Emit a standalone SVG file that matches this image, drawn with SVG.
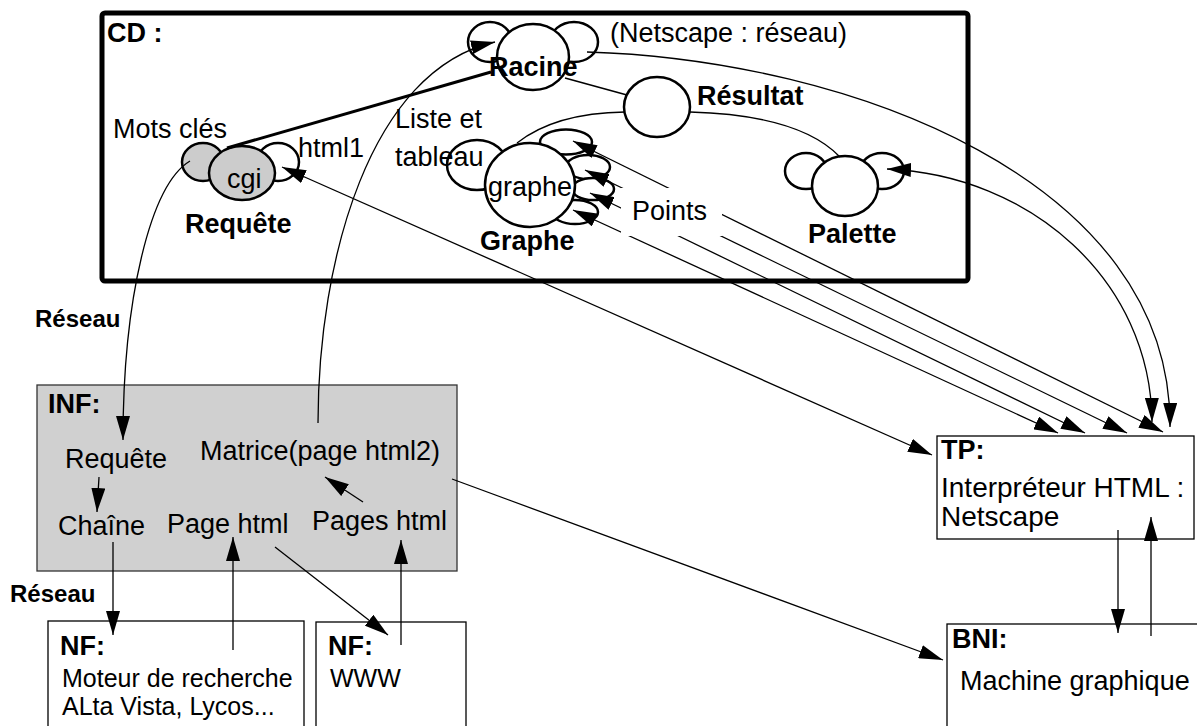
<svg xmlns="http://www.w3.org/2000/svg" width="1197" height="726" viewBox="0 0 1197 726">
<style>
  .t{font-family:"Liberation Sans",Arial,Helvetica,sans-serif;font-size:27px;fill:#000}
  .b{font-weight:bold}
  .s25{font-size:25px}
  .s28{font-size:28px}
  .r{font-size:24px;font-weight:bold}
  .nd{fill:#fff;stroke:#000;stroke-width:2.5}
  .gr{fill:#cccccc}
  .ln{fill:none;stroke:#000;stroke-width:1.3}
  .box{fill:#fff;stroke:#000;stroke-width:1.3}
</style>
<defs>
  <marker id="ah" viewBox="0 0 24 14" refX="24" refY="7" markerWidth="24" markerHeight="14" markerUnits="userSpaceOnUse" orient="auto-start-reverse">
    <path d="M0,0 L24,7 L0,14 z" fill="#000"/>
  </marker>
</defs>
<rect width="1197" height="726" fill="#fff"/>

<!-- CD frame -->
<g id="cd">
  <rect x="102" y="13" width="866" height="268" rx="3" fill="none" stroke="#000" stroke-width="5"/>
  <text class="t b" x="107" y="42">CD :</text>
</g>

<g id="requete">
  <ellipse class="nd gr" cx="203" cy="162" rx="21" ry="19"/>
  <ellipse class="nd" cx="278" cy="162" rx="21" ry="19"/>
  <ellipse class="nd gr" cx="242" cy="173" rx="33" ry="27"/>
  <text class="t" x="113" y="138">Mots clés</text>
  <text class="t" x="298" y="157">html1</text>
  <text class="t" x="227" y="188">cgi</text>
  <text class="t b" x="185" y="233">Requête</text>
</g>

<g id="racine">
  <ellipse class="nd" cx="490" cy="42" rx="22" ry="20"/>
  <ellipse class="nd" cx="574" cy="42" rx="24" ry="20"/>
  <ellipse class="nd" cx="533" cy="57" rx="36" ry="33"/>
  <text class="t b" x="489" y="76">Racine</text>
  <text class="t" x="610" y="42">(Netscape : réseau)</text>
</g>

<g id="resultat">
  <ellipse class="nd" cx="657" cy="107" rx="33" ry="30"/>
  <text class="t b" x="697" y="105">Résultat</text>
</g>

<g id="graphe">
  <ellipse class="nd" cx="477" cy="165" rx="30" ry="25"/>
  <ellipse class="nd" cx="566" cy="142" rx="26" ry="12.5"/>
  <ellipse class="nd" cx="588" cy="167" rx="22" ry="12"/>
  <ellipse class="nd" cx="593" cy="189" rx="21" ry="11"/>
  <ellipse class="nd" cx="575" cy="212" rx="23" ry="12"/>
  <ellipse class="nd" cx="530" cy="185" rx="45" ry="42"/>
  <text class="t" x="395" y="128">Liste et</text>
  <text class="t" x="395" y="166">tableau</text>
  <text class="t" x="488" y="196">graphe</text>
  <text class="t b" x="480" y="250">Graphe</text>
</g>

<g id="palette">
  <ellipse class="nd" cx="806" cy="171" rx="21" ry="18"/>
  <ellipse class="nd" cx="882" cy="171" rx="22" ry="18"/>
  <ellipse class="nd" cx="845" cy="186" rx="33" ry="30"/>
  <text class="t b" x="808" y="243">Palette</text>
</g>

<g id="inf">
  <rect x="37" y="385" width="420" height="186" fill="#d0d0d0" stroke="#333" stroke-width="1.3"/>
  <text class="t b" x="48" y="413">INF:</text>
  <text class="t" x="65" y="468">Requête</text>
  <text class="t" x="200" y="460">Matrice(page html2)</text>
  <text class="t" x="58" y="535">Chaîne</text>
  <text class="t" x="167" y="533">Page html</text>
  <text class="t" x="312" y="530">Pages html</text>
</g>

<g id="nf-moteur">
  <rect class="box" x="48" y="621" width="256" height="112"/>
  <text class="t b" x="60" y="655">NF:</text>
  <text class="t s25" x="62" y="687">Moteur de recherche</text>
  <text class="t s25" x="62" y="715">ALta Vista, Lycos...</text>
</g>

<g id="nf-www">
  <rect class="box" x="316" y="622" width="150" height="112"/>
  <text class="t b" x="328" y="655">NF:</text>
  <text class="t s25" x="330" y="687">WWW</text>
</g>

<g id="tp">
  <rect class="box" x="937" y="436" width="257" height="103"/>
  <text class="t b" x="941" y="459">TP:</text>
  <text class="t s28" x="941" y="497">Interpréteur HTML :</text>
  <text class="t s28" x="941" y="526">Netscape</text>
</g>

<g id="bni">
  <rect class="box" x="947" y="624" width="260" height="112"/>
  <text class="t b" x="952" y="648">BNI:</text>
  <text class="t" x="960" y="690">Machine graphique</text>
</g>

<g id="reseau-labels">
  <text class="t r" x="35" y="327">Réseau</text>
  <text class="t r" x="10" y="602">Réseau</text>
</g>

<!-- connectors -->
<g id="connectors">
  <path class="ln" d="M190,161 C150,185 123,300 123,440" marker-end="url(#ah)"/>
  <path class="ln" d="M318,423 C318,260 370,70 495,42" marker-end="url(#ah)"/>
  <line x1="227" y1="148" x2="491" y2="72" stroke="#000" stroke-width="3"/>
  <line class="ln" x1="565" y1="78" x2="627" y2="95" style="stroke-width:1.6"/>
  <path class="ln" d="M517,143 Q555,113 625,112"/>
  <path class="ln" d="M690,112 Q800,115 840,157"/>
  <path class="ln" d="M587,52 C850,60 1172,180 1170,427" marker-end="url(#ah)"/>
  <path class="ln" d="M887,169 C1030,175 1151,280 1152,422" marker-start="url(#ah)" marker-end="url(#ah)"/>
  <line class="ln" x1="282" y1="167" x2="932" y2="455" marker-start="url(#ah)" marker-end="url(#ah)"/>
  <line class="ln" x1="573" y1="141" x2="1163" y2="432" marker-start="url(#ah)" marker-end="url(#ah)"/>
  <line class="ln" x1="585" y1="170" x2="1127" y2="433" marker-start="url(#ah)" marker-end="url(#ah)"/>
  <line class="ln" x1="590" y1="193" x2="1085" y2="433" marker-start="url(#ah)" marker-end="url(#ah)"/>
  <line class="ln" x1="573" y1="210" x2="1058" y2="433" marker-start="url(#ah)" marker-end="url(#ah)"/>
  <line class="ln" x1="452" y1="479" x2="943" y2="660" marker-end="url(#ah)"/>
  <line class="ln" x1="99" y1="477" x2="97" y2="512" marker-end="url(#ah)"/>
  <line class="ln" x1="363" y1="502" x2="325" y2="477" marker-end="url(#ah)"/>
  <line class="ln" x1="113" y1="542" x2="113" y2="635" marker-end="url(#ah)"/>
  <line class="ln" x1="233" y1="650" x2="233" y2="537" marker-end="url(#ah)"/>
  <line class="ln" x1="401" y1="645" x2="401" y2="540" marker-end="url(#ah)"/>
  <line class="ln" x1="275" y1="547" x2="388" y2="635" marker-end="url(#ah)"/>
  <line class="ln" x1="1118" y1="530" x2="1118" y2="633" marker-end="url(#ah)"/>
  <line class="ln" x1="1151" y1="636" x2="1151" y2="517" marker-end="url(#ah)"/>
</g>

<g id="points-label">
  <rect x="621" y="188" width="101" height="48" fill="#fff"/>
  <text class="t" x="632" y="220">Points</text>
</g>
</svg>
